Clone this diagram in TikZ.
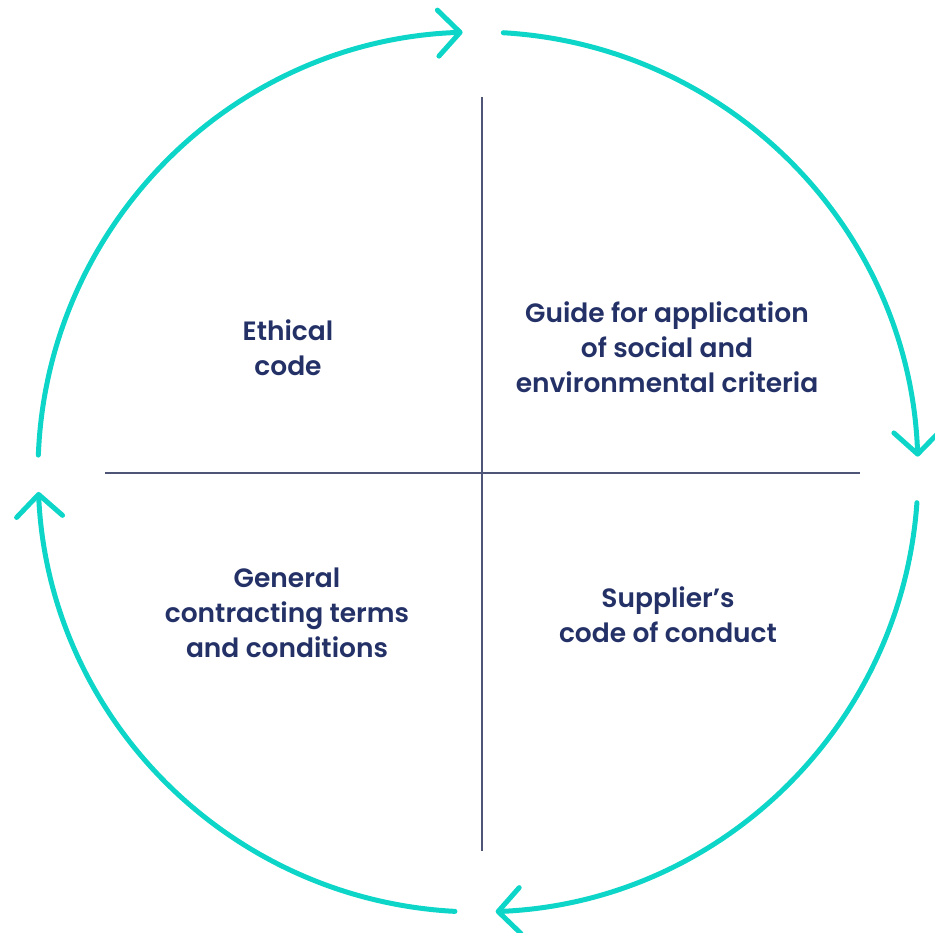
\documentclass[tikz,border=0pt]{standalone}
\usepackage{fontspec}
\setmainfont{Poppins}[UprightFont={* Medium},BoldFont={* SemiBold}]
\usetikzlibrary{arrows.meta}
\definecolor{teal1}{HTML}{0DD6C8}
\definecolor{navy}{HTML}{233167}
\definecolor{divider}{HTML}{4E5577}
\tikzset{
  ring/.style={draw=teal1, line width=5pt, line cap=round, -{Straight Barb[length=22pt,width=46pt,round]}},
  divline/.style={draw=divider, line width=1.1pt},
  label/.style={align=center, text=navy, font=\fontsize{26.5}{35}\selectfont\bfseries, inner sep=0pt}
}
\begin{document}
\begin{tikzpicture}[x=1pt,y=1pt]
\useasboundingbox (0,0) rectangle (935,933);
\coordinate (C) at (478,461);
% dividers
\coordinate (vt) at (482,836);
\coordinate (vb) at (482,82);
\coordinate (hl) at (105,460);
\coordinate (hr) at (860,460);
\draw[divline] (vt) -- (vb);
\draw[divline] (hl) -- (hr);
% ring arcs
\draw[ring] (C) ++(86.7:440pt) arc[start angle=86.7, end angle=2, radius=440pt];
\draw[ring] (C) ++(-4:440pt) arc[start angle=-4, end angle=-87.7, radius=440pt];
\draw[ring] (C) ++(-93:440pt) arc[start angle=-93, end angle=-177.4, radius=440pt];
\draw[ring] (C) ++(177.8:440pt) arc[start angle=177.8, end angle=92, radius=440pt];
% labels
\node[label] (ethic) at (288,585.5) {Ethical\\code};
\node[label] (guide) at (667,586) {Guide for application\\of social and\\environmental criteria};
\node[label] (gen) at (287,320) {General\\contracting terms\\and conditions};
\node[label] (supp) at (668,318.5) {Supplier’s\\code of conduct};
\end{tikzpicture}
\end{document}
